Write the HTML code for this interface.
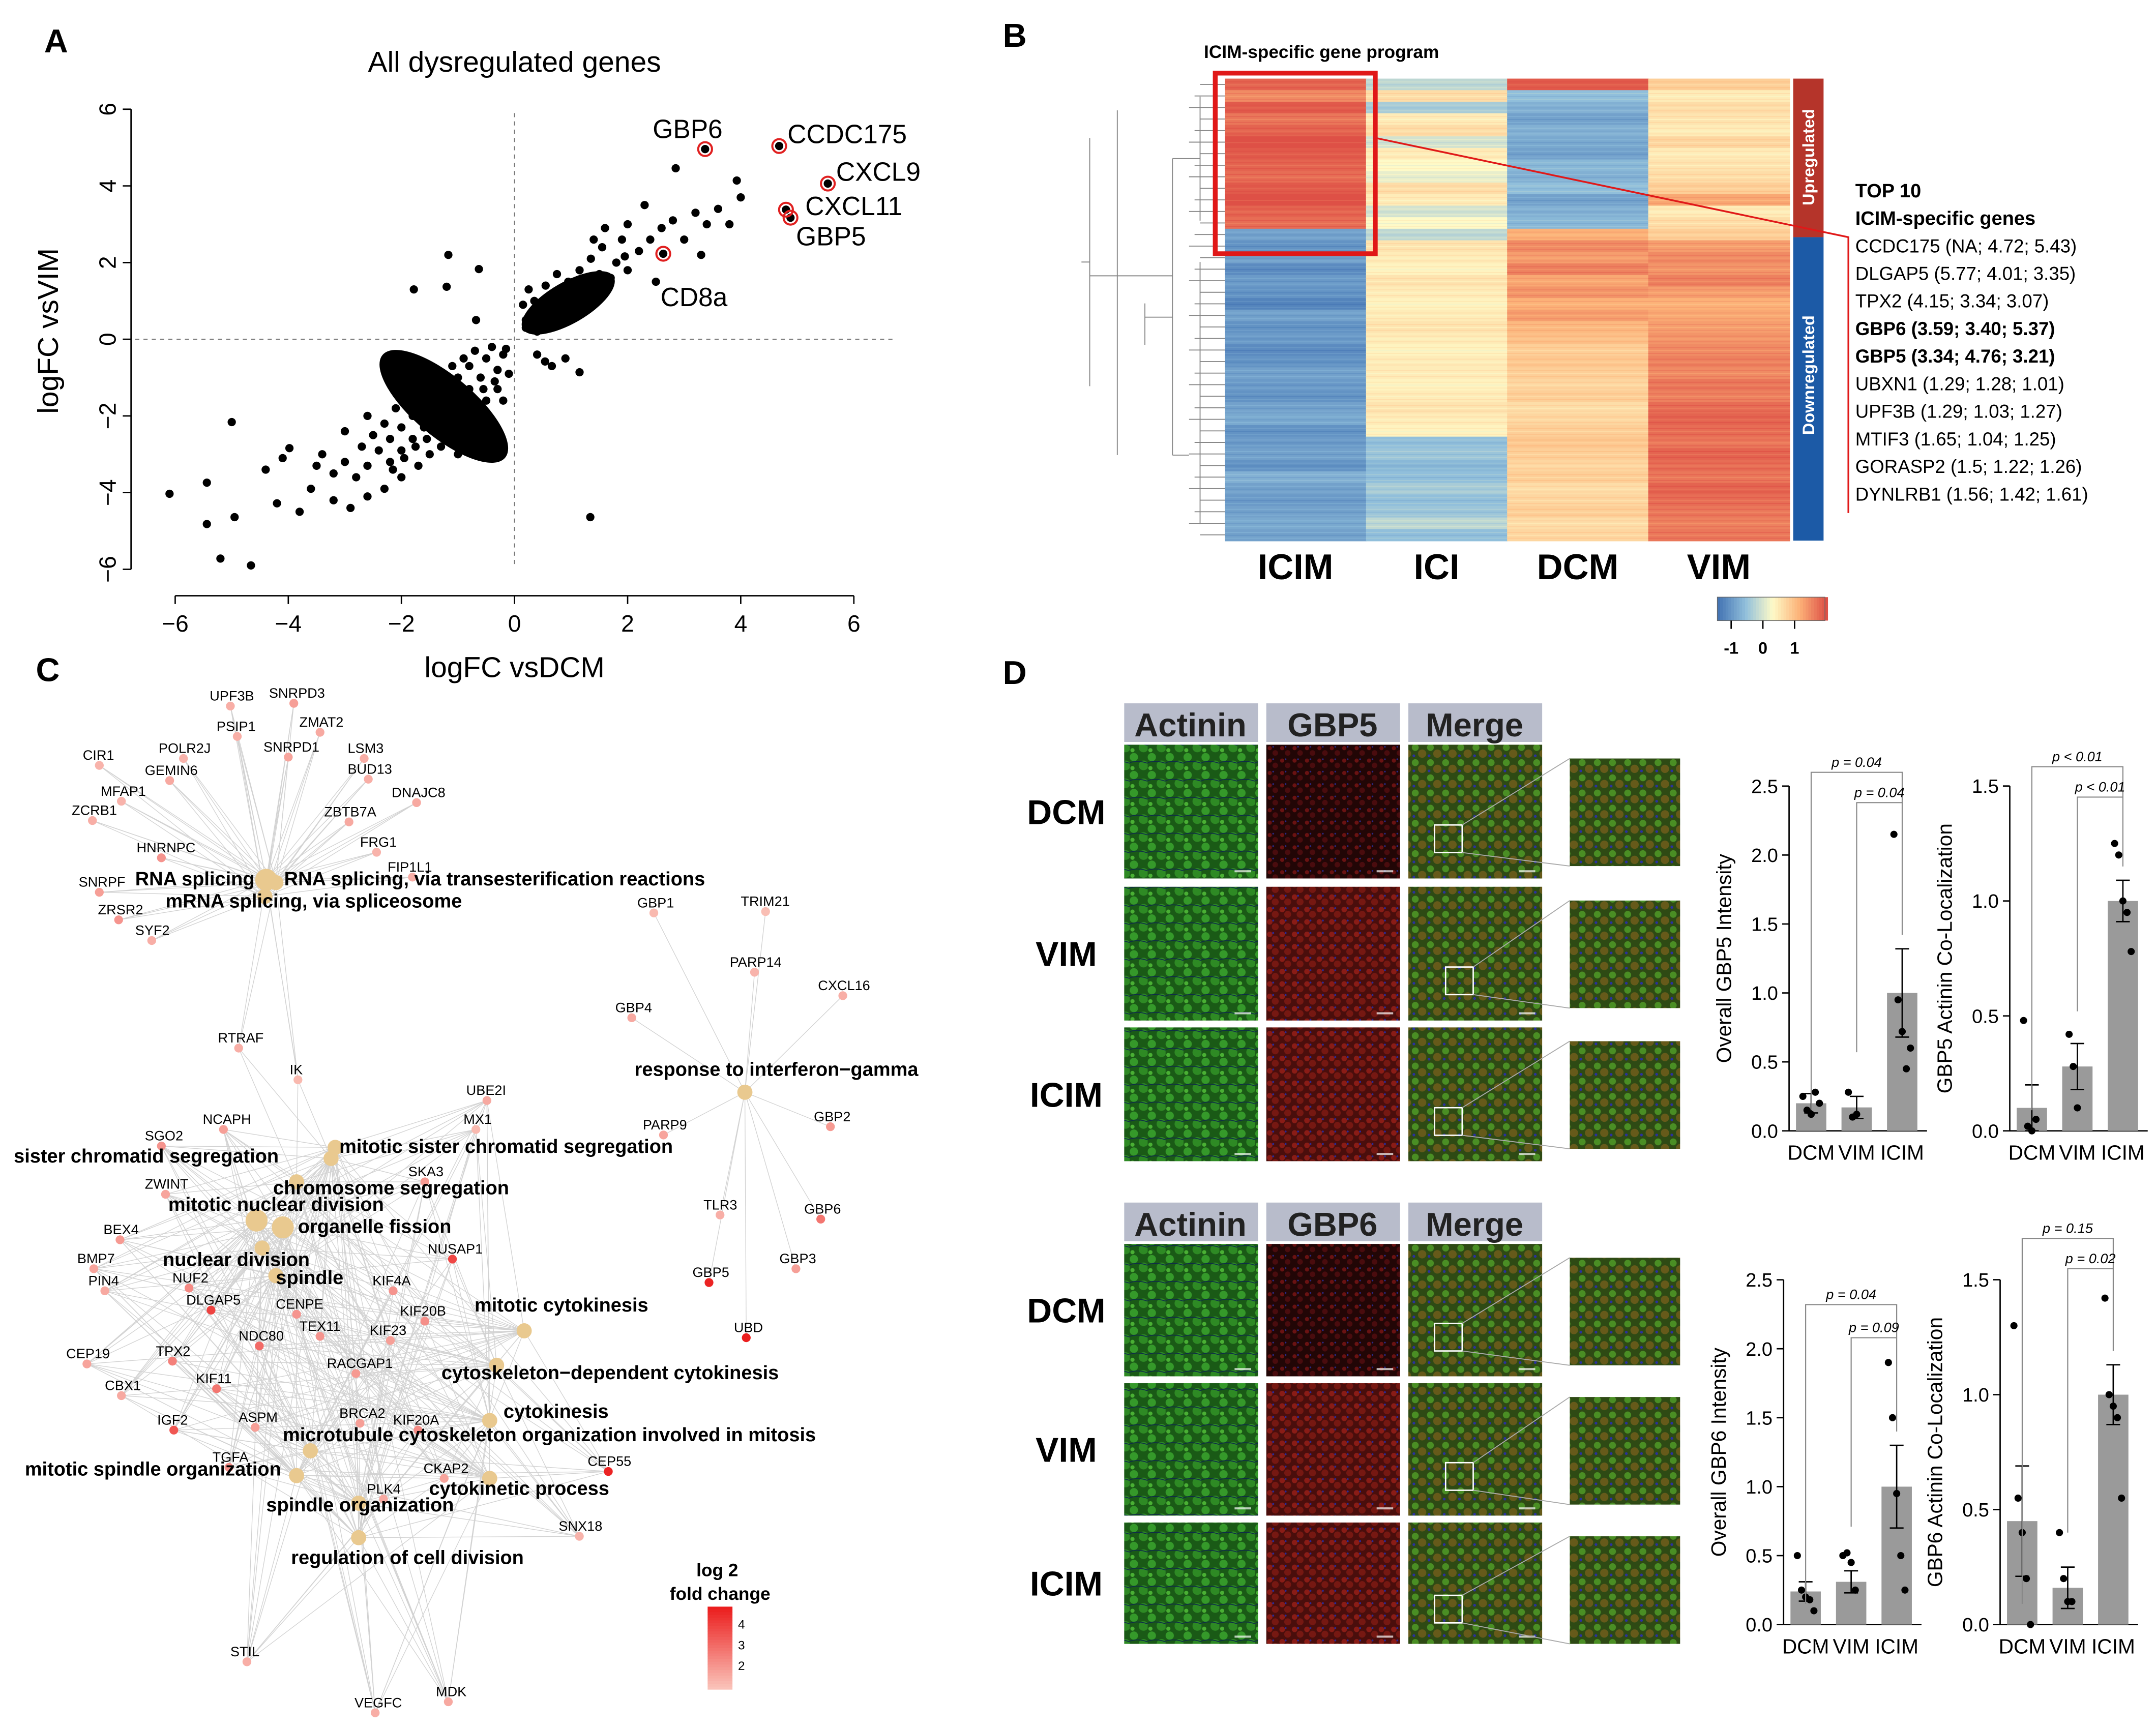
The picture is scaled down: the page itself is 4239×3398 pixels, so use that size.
<!DOCTYPE html>
<html><head><meta charset="utf-8"><style>
html,body{margin:0;padding:0;background:#fff}
svg{display:block;font-family:"Liberation Sans",Arial,sans-serif}
</style></head><body>
<svg id="fig" width="4239" height="3398" viewBox="0 0 1563 1253" preserveAspectRatio="none" xmlns="http://www.w3.org/2000/svg">
<defs>
<pattern id="pg" width="13" height="13" patternUnits="userSpaceOnUse"><rect width="13" height="13" fill="#1a5a16"/><circle cx="3" cy="3" r="3" fill="#35992a"/><circle cx="10" cy="9" r="3.5" fill="#2e8a24"/><circle cx="2" cy="11" r="1.5" fill="#4ab034"/><path d="M0 7 Q6 5 13 7.5" stroke="#0d2a4a" stroke-width="0.6" fill="none"/></pattern>
<pattern id="pr" width="9" height="9" patternUnits="userSpaceOnUse"><rect width="9" height="9" fill="#220606"/><circle cx="2.5" cy="2.5" r="1.5" fill="#6a1212"/><circle cx="6.5" cy="6" r="2" fill="#4a0c0e"/><circle cx="5" cy="1.5" r="0.6" fill="#2a2a8a"/></pattern>
<pattern id="pr2" width="9" height="9" patternUnits="userSpaceOnUse"><rect width="9" height="9" fill="#4a0e0c"/><circle cx="2.5" cy="2.5" r="2" fill="#8a1c16"/><circle cx="6.5" cy="6" r="2.5" fill="#761812"/><circle cx="5" cy="1.5" r="0.7" fill="#2a2a9a"/></pattern>
<pattern id="pm" width="11" height="11" patternUnits="userSpaceOnUse"><rect width="11" height="11" fill="#2e4a14"/><circle cx="3" cy="3" r="2.5" fill="#4a8e24"/><circle cx="8" cy="7.5" r="3" fill="#665a1a"/><circle cx="2" cy="9" r="1" fill="#2a30a0"/></pattern>
</defs>
<g id="root"></g>
</svg>
<script>
const NS="http://www.w3.org/2000/svg";
const root=document.getElementById('root');
function el(tag,attrs,parent,name,inter){const e=document.createElementNS(NS,tag);for(const k in attrs)e.setAttribute(k,attrs[k]);


(parent||root).appendChild(e);return e;}
function tx(x,y,s,size,opt,parent,name){opt=opt||{};const e=el('text',Object.assign({x:x,y:y,'font-size':size,fill:opt.fill||'#000','text-anchor':opt.anchor||'start','font-weight':opt.weight||'normal'},opt.attrs||{}),parent,name||'label');e.textContent=s;return e;}

/* ===== Panel A data ===== */
const scatterX=[-0.2,-0.3,-0.5,-0.6,-0.8,-0.8,-1.0,-1.0,-1.2,-1.2,-1.4,-1.4,-1.6,-1.6,-1.8,-1.8,-2.0,-2.0,-2.2,-2.2,-2.4,-2.6,-2.8,-0.4,-0.7,-0.9,-1.1,-1.3,-1.5,-1.7,-0.3,-0.5,-0.7,-0.9,-1.1,-1.3,-1.5,-0.1,-0.2,-0.6,-1.9,-2.1,-2.3,-2.5,-2.7,-1.0,-1.7,-2.0,-2.3,-2.6,-3.0,-3.2,-3.4,-3.0,-2.6,-0.15,-0.35,-0.55,-0.75,-0.95,-1.15,-1.35,-1.55,-1.75,-1.95,-2.15,
-6.1,-5.44,-5.2,-4.66,-5.0,-5.44,-4.95,-4.2,-3.98,-3.6,-3.8,-4.4,-3.2,-2.9,-4.1,-3.5,
0.2,0.3,0.4,0.5,0.6,0.7,0.8,0.9,1.0,1.1,1.2,1.3,1.4,1.5,1.6,1.7,1.8,2.0,2.2,2.4,0.15,0.25,0.35,0.55,0.75,0.95,1.15,1.35,1.55,0.3,0.45,0.65,0.85,1.05,0.2,2.6,2.8,3.0,3.2,3.4,2.3,1.6,1.4,2.0,3.6,3.8,4.0,2.5,3.3,1.9,2.85,3.93,1.95,
-1.78,-1.2,-1.17,-0.68,-0.63,1.34,0.54,0.66,1.15,0.4,0.9,
3.37,4.68,5.54,4.8,4.88,2.63];
const scatterY=[-0.4,-0.8,-0.5,-1.0,-0.7,-1.3,-1.0,-1.6,-1.2,-1.9,-1.5,-2.1,-1.7,-2.3,-2.0,-2.6,-2.3,-2.9,-2.6,-3.2,-2.9,-3.3,-3.6,-0.2,-0.3,-0.5,-0.7,-0.9,-1.1,-1.3,-1.3,-1.6,-1.9,-2.2,-2.5,-2.8,-3.0,-0.9,-1.6,-2.4,-1.5,-1.8,-2.2,-2.5,-2.8,-3.0,-3.3,-3.6,-3.9,-4.1,-3.2,-3.5,-3.0,-2.4,-2.0,-0.25,-1.1,-1.3,-1.6,-1.8,-2.1,-2.4,-2.6,-2.8,-3.1,-3.4,
-4.03,-4.82,-5.72,-5.9,-2.16,-3.74,-4.64,-4.28,-2.84,-3.9,-4.5,-3.4,-4.2,-4.4,-3.1,-3.3,
0.3,0.7,0.2,0.6,1.0,0.4,0.8,1.2,0.6,1.0,1.4,0.9,1.3,1.7,1.2,1.6,2.0,1.8,2.3,2.6,0.9,1.3,1.0,1.4,1.7,1.5,1.8,2.1,2.4,0.4,0.9,0.7,1.0,1.3,0.5,2.9,3.1,2.6,3.3,3.0,3.5,2.9,2.6,3.0,3.4,3.0,3.7,1.5,2.2,2.6,4.46,4.14,2.16,
1.3,1.37,2.2,0.5,1.83,-4.64,-0.58,-0.7,-0.86,-0.4,-0.5,
4.96,5.04,4.06,3.38,3.17,2.23];
const highlightLabels=['GBP6','CCDC175','CXCL9','CXCL11','GBP5','CD8a'];
const highlightX=[3.37,4.68,5.54,4.8,4.88,2.63];
const highlightY=[4.96,5.04,4.06,3.38,3.17,2.23];
const axisTicks=[-6,-4,-2,0,2,4,6];

const gA=el('g',{},root,'panel-a');
tx(32,38,'A',24,{weight:'bold'},gA,'panel-a-letter');
tx(373,52,'All dysregulated genes',21,{anchor:'middle'},gA,'panel-a-title');
const ax=v=>373+v*41, ay=v=>246-v*27.8;
el('line',{x1:95,y1:ay(6),x2:95,y2:ay(-6),stroke:'#000','stroke-width':1},gA,'y-axis-line');
el('line',{x1:ax(-6),y1:432,x2:ax(6),y2:432,stroke:'#000','stroke-width':1},gA,'x-axis-line');
axisTicks.forEach(t=>{
 el('line',{x1:ax(t),y1:432,x2:ax(t),y2:438,stroke:'#000'},gA,'x-tick');
 tx(ax(t),458,(t<0?'\u2212':'')+Math.abs(t),17,{anchor:'middle'},gA,'x-tick-label');
 el('line',{x1:89,y1:ay(t),x2:95,y2:ay(t),stroke:'#000'},gA,'y-tick');
 tx(78,ay(t),(t<0?'\u2212':'')+Math.abs(t),17,{anchor:'middle',attrs:{transform:`rotate(-90 78 ${ay(t)})`,dy:'0.35em'}},gA,'y-tick-label');
});
tx(373,491,'logFC vsDCM',21,{anchor:'middle'},gA,'x-axis-title');
tx(42,240,'logFC vsVIM',21,{anchor:'middle',attrs:{transform:'rotate(-90 42 240)'}},gA,'y-axis-title');
el('line',{x1:373,y1:82,x2:373,y2:410,stroke:'#777','stroke-dasharray':'3,3','stroke-width':0.8},gA,'zero-line-vertical');
el('line',{x1:98,y1:246,x2:650,y2:246,stroke:'#777','stroke-dasharray':'3,3','stroke-width':0.8},gA,'zero-line-horizontal');
// dense cloud fill
el('ellipse',{cx:ax(-1.25),cy:ay(-1.75),rx:58,ry:22,transform:`rotate(40 ${ax(-1.25)} ${ay(-1.75)})`,fill:'#000'},gA,'dense-cloud-negative');
el('ellipse',{cx:ax(0.95),cy:ay(0.95),rx:38,ry:15,transform:`rotate(-30 ${ax(0.95)} ${ay(0.95)})`,fill:'#000'},gA,'dense-cloud-positive');
scatterX.forEach((x,i)=>{el('circle',{cx:ax(x),cy:ay(scatterY[i]),r:3,fill:'#000'},gA,'gene-point');});
const hlOff=[[-38,-8],[6,-2],[6,-2],[14,4],[4,20],[-2,38]];
highlightLabels.forEach((l,i)=>{
 el('circle',{cx:ax(highlightX[i]),cy:ay(highlightY[i]),r:5,fill:'none',stroke:'#e02020','stroke-width':1.5},gA,'highlight-ring');
 tx(ax(highlightX[i])+hlOff[i][0],ay(highlightY[i])+hlOff[i][1],l,19,{},gA,'gene-label');
});

/* ===== Panel B heatmap ===== */
const hmColumns=['ICIM','ICI','DCM','VIM'];
const hmICIM=[0.9,0.7,0.95,0.8,0.9,1,0.95,0.9,0.85,0.95,1,0.9,0.85,-0.7,-0.8,-0.7,-0.85,-0.75,-0.8,-0.9,-0.7,-0.8,-0.75,-0.85,-0.8,-0.7,-0.75,-0.8,-0.7,-0.65,-0.8,-0.75,-0.7,-0.8,-0.6,-0.7,-0.75,-0.7,-0.65,-0.7];
const hmICI=[-0.3,0.2,-0.4,0.1,0.2,-0.2,0.1,0,-0.1,0.2,0.1,-0.2,0,-0.3,0.15,0.1,0.05,0.15,0.1,0.05,0.1,0.15,0.1,0.05,0.1,0.1,0.05,0.1,0.15,0.1,0.05,-0.5,-0.45,-0.55,-0.5,-0.4,-0.5,-0.45,-0.3,-0.5];
const hmDCM=[0.95,-0.5,-0.6,-0.7,-0.6,-0.65,-0.7,-0.55,-0.6,-0.5,-0.7,-0.6,-0.55,0.5,0.7,0.6,0.75,0.55,0.65,0.5,0.6,0.45,0.4,0.3,0.35,0.3,0.25,0.3,0.2,0.25,0.3,0.35,0.3,0.25,0.3,0.2,0.25,0.3,0.2,0.25];
const hmVIM=[0.3,0.1,0.2,0.15,0.1,0.25,0.1,0.15,0.2,0.3,0.55,0.1,0.2,0.3,0.6,0.7,0.65,0.75,0.6,0.5,0.55,0.6,0.65,0.7,0.75,0.7,0.8,0.75,0.85,0.9,0.85,0.8,0.9,0.85,0.8,0.9,0.85,0.8,0.75,0.8];
const hmData=[hmICIM,hmICI,hmDCM,hmVIM];
const top10=['CCDC175 (NA; 4.72; 5.43)','DLGAP5 (5.77; 4.01; 3.35)','TPX2 (4.15; 3.34; 3.07)','GBP6 (3.59; 3.40; 5.37)','GBP5 (3.34; 4.76; 3.21)','UBXN1 (1.29; 1.28; 1.01)','UPF3B (1.29; 1.03; 1.27)','MTIF3 (1.65; 1.04; 1.25)','GORASP2 (1.5; 1.22; 1.26)','DYNLRB1 (1.56; 1.42; 1.61)'];
const gB=el('g',{},root,'panel-b');
tx(727,34,'B',24,{weight:'bold'},gB,'panel-b-letter');
tx(958,42,'ICIM-specific gene program',13,{anchor:'middle',weight:'bold'},gB,'heatmap-title');
const stops=[[-1,[69,117,180]],[-0.5,[145,191,219]],[0,[254,250,200]],[0.5,[252,178,120]],[1,[222,80,70]]];
function col(v){v=Math.max(-1,Math.min(1,v));for(let i=0;i<4;i++){const a=stops[i],b=stops[i+1];if(v<=b[0]){const t=(v-a[0])/(b[0]-a[0]);return 'rgb('+a[1].map((c,j)=>Math.round(c+(b[1][j]-c)*t)).join(',')+')';}}}
const hx0=888,hcw=102.3,hy0=57,hy1=392,rh=(hy1-hy0)/40;
hmData.forEach((c,ci)=>c.forEach((v,ri)=>{
 el('rect',{x:hx0+ci*hcw,y:hy0+ri*rh,width:hcw+0.5,height:rh+0.5,fill:col(v)},gB,'heatmap-cell');
 for(let k=1;k<4;k++)el('rect',{x:hx0+ci*hcw,y:hy0+ri*rh+k*rh/4,width:hcw+0.5,height:0.7,fill:col(v+((k%2)?0.12:-0.12)),opacity:0.7},gB,'heatmap-stripe');
}));
hmColumns.forEach((c,i)=>tx(hx0+i*hcw+hcw/2,420,c,26,{anchor:'middle',weight:'bold'},gB,'heatmap-column-label'));
let dp='';for(let i=0;i<40;i++){const y=hy0+i*rh+rh/2;dp+=`M888 ${y}H${870-(i%3)*4}`;}
dp+='M870 70V160M850 115V330M870 190V380M830 220V250M810 80V330M790 100V280M810 200H850M790 200H810';
el('path',{d:dp+'M850 115H870M850 330H862M830 230H850M784 190H790',stroke:'#888','stroke-width':0.7,fill:'none'},gB,'dendrogram');
el('rect',{x:1300,y:57,width:22,height:115,fill:'#b5342a'},gB,'upregulated-bar');
el('rect',{x:1300,y:172,width:22,height:220,fill:'#1c5aa6'},gB,'downregulated-bar');
tx(1311,114,'Upregulated',12,{anchor:'middle',fill:'#fff',weight:'bold',attrs:{transform:'rotate(-90 1311 114)',dy:'0.35em'}},gB,'upregulated-label');
tx(1311,272,'Downregulated',12,{anchor:'middle',fill:'#fff',weight:'bold',attrs:{transform:'rotate(-90 1311 272)',dy:'0.35em'}},gB,'downregulated-label');
el('rect',{x:881,y:53,width:116,height:131,fill:'none',stroke:'#e01818','stroke-width':3.5},gB,'icim-highlight-box');
el('path',{d:'M997 100L1340 172V372',stroke:'#e01818','stroke-width':1.3,fill:'none'},gB,'connector-line');
tx(1345,143,'TOP 10',14,{weight:'bold'},gB,'top10-title');
tx(1345,163,'ICIM-specific genes',14,{weight:'bold'},gB,'top10-subtitle');
top10.forEach((s,i)=>tx(1345,183+i*20,s,13.5,{weight:(i==3||i==4)?'bold':'normal'},gB,'top10-entry'));
for(let i=0;i<40;i++)el('rect',{x:1245+i*2,y:433,width:2.2,height:17,fill:col(-1+i/19.5)},gB,'colorbar-segment');
el('rect',{x:1245,y:433,width:78,height:17,fill:'none',stroke:'#666','stroke-width':0.5},gB,'colorbar-border');
[-1,0,1].forEach(v=>{const x=1255+(v+1)*23;tx(x,474,v<0?'-1':String(v),12,{anchor:'middle',weight:'bold'},gB,'colorbar-tick-label');el('line',{x1:x,y1:450,x2:x,y2:456,stroke:'#000'},gB,'colorbar-tick');});

/* ===== Panel C network ===== */
const gC=el('g',{},root,'panel-c');
tx(26,494,'C',24,{weight:'bold'},gC,'panel-c-letter');
const terms=[['RNA splicing',98,642,193,638],['RNA splicing, via transesterification reactions',206,642,200,640],['mRNA splicing, via spliceosome',120,658,192,650],
['response to interferon\u2212gamma',460,780,540,792],['sister chromatid segregation',10,843,240,840],['mitotic sister chromatid segregation',246,836,243,832],
['chromosome segregation',198,866,215,857],['mitotic nuclear division',122,878,186,885],['organelle fission',216,894,205,890],['nuclear division',118,918,190,905],
['spindle',200,931,200,925],['mitotic cytokinesis',344,951,380,965],['cytoskeleton\u2212dependent cytokinesis',320,1000,360,990],['cytokinesis',365,1028,355,1030],
['microtubule cytoskeleton organization involved in mitosis',205,1045,225,1052],['mitotic spindle organization',18,1070,215,1070],['spindle organization',193,1096,260,1090],
['cytokinetic process',311,1084,355,1072],['regulation of cell division',211,1134,260,1115]];
const genes=[['UPF3B',152,508,0],['SNRPD3',195,506,0],['PSIP1',157,530,0],['ZMAT2',217,527,0],['POLR2J',115,546,0],['SNRPD1',191,545,0],['LSM3',252,546,0],['CIR1',60,551,0],['GEMIN6',105,562,0],['BUD13',252,561,0],['MFAP1',73,577,0],['DNAJC8',284,578,0],['ZCRB1',52,591,0],['ZBTB7A',235,592,0],['FRG1',261,614,0],['HNRNPC',99,618,0],['FIP1L1',281,632,0],['SNRPF',57,643,0],['ZRSR2',71,663,0],['SYF2',98,678,0],
['GBP1',462,658,1],['TRIM21',537,657,1],['PARP14',529,701,1],['CXCL16',593,718,1],['GBP4',446,734,1],['GBP2',590,813,1],['PARP9',466,819,1],['TLR3',510,877,1],['GBP6',583,880,1],['GBP3',565,916,1],['GBP5',502,926,1],['UBD',532,966,1],
['RTRAF',158,756,3],['IK',210,779,3],['UBE2I',338,794,2],['MX1',336,815,2],['NCAPH',147,815,2],['SGO2',105,827,2],['SKA3',296,853,2],['ZWINT',105,862,2],['BEX4',75,895,2],['NUSAP1',310,909,2],['BMP7',56,916,2],['NUF2',125,930,2],['PIN4',64,932,2],['KIF4A',270,932,2],['DLGAP5',135,946,2],['CENPE',200,949,2],['KIF20B',290,954,2],['TEX11',217,965,2],['KIF23',268,968,2],['NDC80',173,972,2],['CEP19',48,985,2],['TPX2',113,983,2],['RACGAP1',237,992,2],['KIF11',142,1003,2],['CBX1',76,1008,2],['BRCA2',246,1028,2],['IGF2',114,1033,2],['KIF20A',285,1033,2],['ASPM',173,1031,2],['TGFA',154,1060,2],['CKAP2',307,1068,2],['CEP55',426,1063,2],['PLK4',266,1083,2],['SNX18',405,1110,2],['STIL',167,1201,2],['VEGFC',257,1238,2],['MDK',316,1230,2]];
const geneLogFC=[1.5,1.8,1.5,1.6,1.4,1.7,1.5,1.4,1.6,1.5,1.4,1.6,1.5,1.6,1.4,2.0,1.5,1.8,2.0,1.5,
1.3,1.2,1.4,1.5,1.6,1.9,1.7,1.5,2.6,1.8,4.2,4.5,
1.5,1.3,1.6,1.3,1.8,2.0,1.9,1.7,1.9,3.5,1.7,2.2,1.6,2.0,3.6,2.0,2.1,2.0,1.8,2.8,1.7,2.4,1.9,2.6,1.6,1.8,3.2,2.2,1.8,2.1,1.7,4.2,1.6,1.4,1.5,1.5,1.6];
const hubs=[[0,1,2],[3],[4,5,6,7,8,9,10,11,12,13,14,15,16,17,18]];
function fcCol(v){const t=Math.min(1,Math.max(0,(v-1)/3.3));return `rgb(${Math.round(250-15*t)},${Math.round(200-170*t)},${Math.round(190-160*t)})`;}
const ge=el('g',{stroke:'#d2d2d2','stroke-width':0.5,fill:'none'},gC,'network-edges');
genes.forEach((g,i)=>{
 const nx=g[1]+g[0].length*3,ny=g[2]+4;
 let hs=g[3]==3?[0,1,4,6]:hubs[g[3]];
 if(g[3]==2){hs=hs.filter((h,k)=>((i+k)%3)!=0);}
 hs.forEach(h=>el('line',{x1:nx,y1:ny,x2:terms[h][3],y2:terms[h][4]},ge,'network-edge'));
});
el('line',{x1:193,y1:640,x2:215,y2:775},ge,'network-edge');
terms.forEach((t,i)=>el('circle',{cx:t[3],cy:t[4],r:i==0||i==8||i==7?8:5.5,fill:'#e9c98f'},gC,'term-node'));
genes.forEach((g,i)=>{el('circle',{cx:g[1]+g[0].length*3,cy:g[2]+4,r:3.2,fill:fcCol(geneLogFC[i])},gC,'gene-node');
 tx(g[1],g[2],g[0],10,{},gC,'gene-label');});
terms.forEach(t=>tx(t[1],t[2],t[0],14,{weight:'bold'},gC,'term-label'));
tx(520,1143,'log 2',13,{anchor:'middle',weight:'bold'},gC,'fc-legend-title');
tx(522,1160,'fold change',13,{anchor:'middle',weight:'bold'},gC,'fc-legend-title');
for(let i=0;i<30;i++)el('rect',{x:513,y:1165+i*2,width:18,height:2.2,fill:fcCol(4.3-i*0.11)},gC,'fc-colorbar-segment');
[4,3,2].forEach((v,i)=>tx(535,1181+i*15,String(v),9,{},gC,'fc-colorbar-label'));

/* ===== Panel D ===== */
const gD=el('g',{},root,'panel-d');
tx(727,496,'D',24,{weight:'bold'},gD,'panel-d-letter');
const rowNames=['DCM','VIM','ICIM'];
const fillsTop=[['pg','pr','pm'],['pg','pr2','pm'],['pg','pr2','pm']];
function micro(hy,rows,stain){
 ['Actinin',stain,'Merge'].forEach((h,i)=>{el('rect',{x:815+i*103,y:hy,width:97,height:28,fill:'#b8bccb'},gD,'header-box');tx(815+i*103+48,hy+24,h,24,{anchor:'middle',weight:'bold',fill:'#222'},gD,'header-label');});
 rows.forEach((r,ri)=>{
  const y=r[0],h=r[1];
  tx(773,y+h/2+9,rowNames[ri],25,{anchor:'middle',weight:'bold'},gD,'row-label');
  fillsTop[ri].forEach((f,i)=>{el('rect',{x:815+i*103,y:y,width:97,height:h,fill:`url(#${f})`},gD,'micrograph');
   el('rect',{x:815+i*103+80,y:y+h-6,width:12,height:1.5,fill:'#fff',opacity:0.7},gD,'scale-bar');});
  const bx=1040+(ri%2)*8,by=y+h*0.6;
  el('rect',{x:bx,y:by,width:20,height:20,fill:'none',stroke:'#fff','stroke-width':1},gD,'zoom-box');
  el('rect',{x:1138,y:y+10,width:80,height:78,fill:'url(#pm)'},gD,'inset-micrograph');
  el('path',{d:`M${bx+20} ${by}L1138 ${y+10}M${bx+20} ${by+20}L1138 ${y+88}`,stroke:'#aaa','stroke-width':0.7},gD,'zoom-connector');
 });
}
micro(510,[[540,97],[643,97],[745,97]],'GBP5');
micro(872,[[902,96],[1003,96],[1104,88]],'GBP6');

const barCats=['DCM','VIM','ICIM'];
const c1Means=[0.2,0.17,1.0], c1Err=[0.07,0.08,0.32], c1Pts=[[0.25,0.15,0.12,0.28,0.2],[0.28,0.1,0.12],[2.15,0.95,0.72,0.45,0.6]];
const c2Means=[0.1,0.28,1.0], c2Err=[0.1,0.1,0.09], c2Pts=[[0.48,0.02,0.0,0.05],[0.42,0.28,0.1],[1.25,1.2,1.0,0.95,0.78]];
const c3Means=[0.24,0.31,1.0], c3Err=[0.07,0.08,0.3], c3Pts=[[0.5,0.25,0.2,0.18,0.1],[0.5,0.52,0.45,0.25],[1.9,1.5,0.95,0.5,0.25]];
const c4Means=[0.45,0.16,1.0], c4Err=[0.24,0.09,0.13], c4Pts=[[1.3,0.55,0.4,0.2,0.0],[0.4,0.2,0.1,0.1],[1.42,1.0,0.95,0.9,0.55]];
const yTicks1=[0.0,0.5,1.0,1.5,2.0,2.5], yTicks2=[0.0,0.5,1.0,1.5];
function bars(o){
 const g=el('g',{},gD,o.name);
 const sy=v=>o.y0-v*o.scale;
 el('line',{x1:o.ax,y1:sy(o.ymax),x2:o.ax,y2:o.y0,stroke:'#000'},g,'y-axis-line');
 el('line',{x1:o.ax,y1:o.y0,x2:o.ax+100,y2:o.y0,stroke:'#000'},g,'x-axis-line');
 o.ticks.forEach(t=>{el('line',{x1:o.ax-5,y1:sy(t),x2:o.ax,y2:sy(t),stroke:'#000'},g,'y-tick');tx(o.ax-8,sy(t)+5,t.toFixed(1),14,{anchor:'end'},g,'y-tick-label');});
 const ylx=o.ax-42,yly=(o.y0+sy(o.ymax))/2;
 tx(ylx,yly,o.ylab,15,{anchor:'middle',attrs:{transform:`rotate(-90 ${ylx} ${yly})`}},g,'y-axis-title');
 o.means.forEach((m,i)=>{const cx=o.ax+16+i*33;
  el('rect',{x:cx-11,y:sy(m),width:22,height:o.y0-sy(m),fill:'#9a9a9a'},g,'bar-'+barCats[i].toLowerCase());
  el('path',{d:`M${cx} ${sy(m-o.err[i])}V${sy(m+o.err[i])}M${cx-5} ${sy(m+o.err[i])}H${cx+5}M${cx-5} ${sy(m-o.err[i])}H${cx+5}`,stroke:'#000','stroke-width':1,fill:'none'},g,'error-bar');
  o.pts[i].forEach((p,k)=>el('circle',{cx:cx-6+k*3,cy:sy(p),r:2.6,fill:'#000'},g,'data-point'));
  tx(cx,o.y0+21,barCats[i],15,{anchor:'middle'},g,'x-tick-label');
 });
 const b1=o.ax+16,b2=o.ax+49,b3=o.ax+82;
 el('path',{d:`M${b1} ${o.y0-15}V${o.br1}H${b3}V${o.y0-o.means[2]*o.scale-o.err[2]*o.scale-10}`,stroke:'#888',fill:'none','stroke-width':0.8},g,'significance-bracket');
 el('path',{d:`M${b2} ${o.y0-o.means[1]*o.scale-40}V${o.br2}H${b3}`,stroke:'#888',fill:'none','stroke-width':0.8},g,'significance-bracket');
 tx((b1+b3)/2,o.br1-4,o.p1,10,{anchor:'middle',attrs:{'font-style':'italic'}},g,'p-value');
 tx((b2+b3)/2,o.br2-4,o.p2,10,{anchor:'middle',attrs:{'font-style':'italic'}},g,'p-value');
}
bars({name:'gbp5-intensity-chart',ax:1297,y0:820,scale:100,ymax:2.5,ticks:yTicks1,means:c1Means,err:c1Err,pts:c1Pts,ylab:'Overall GBP5 Intensity',br1:560,br2:582,p1:'p = 0.04',p2:'p = 0.04'});
bars({name:'gbp5-colocalization-chart',ax:1457,y0:820,scale:166.7,ymax:1.5,ticks:yTicks2,means:c2Means,err:c2Err,pts:c2Pts,ylab:'GBP5 Actinin Co-Localization',br1:556,br2:578,p1:'p < 0.01',p2:'p < 0.01'});
bars({name:'gbp6-intensity-chart',ax:1293,y0:1178,scale:100,ymax:2.5,ticks:yTicks1,means:c3Means,err:c3Err,pts:c3Pts,ylab:'Overall GBP6 Intensity',br1:946,br2:970,p1:'p = 0.04',p2:'p = 0.09'});
bars({name:'gbp6-colocalization-chart',ax:1450,y0:1178,scale:166.7,ymax:1.5,ticks:yTicks2,means:c4Means,err:c4Err,pts:c4Pts,ylab:'GBP6 Actinin Co-Localization',br1:898,br2:920,p1:'p = 0.15',p2:'p = 0.02'});
</script>
</body></html>
